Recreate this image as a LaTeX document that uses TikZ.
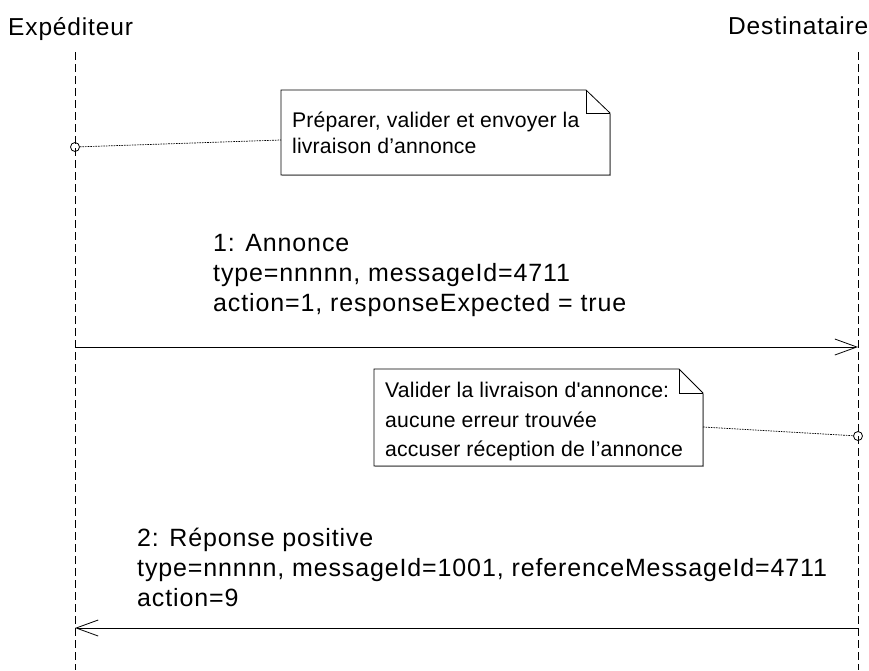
\documentclass[tikz,border=0pt]{standalone}
\usepackage{fontspec}
\setmainfont{Liberation Sans}
\newfontfamily\msgfont[LetterSpace=3.5]{Liberation Sans}
\newfontfamily\notefont[LetterSpace=0.8,Ligatures=TeXOff]{Liberation Sans}
\usetikzlibrary{arrows.meta}

\tikzset{
  lifeline/.style={line width=0.8pt, dash pattern=on 8pt off 4pt},
  actorlabel/.style={font=\msgfont\fontsize{24.5}{29}\selectfont, inner sep=0pt, anchor=base west},
  msgtext/.style={font=\msgfont\fontsize{25}{30}\selectfont, inner sep=0pt, anchor=base west},
  notetext/.style={font=\notefont\fontsize{21.2}{26}\selectfont, inner sep=0pt, anchor=base west},
  notebox/.style={draw, line width=0.8pt, fill=white},
  noteshadow/.style={draw=black!30, line width=1pt},
  notelink/.style={line width=0.7pt, dash pattern=on 1.6pt off 1pt},
  anchorpt/.style={circle, draw, line width=0.8pt, minimum size=9pt, inner sep=0pt},
  message/.style={line width=0.8pt, -{Straight Barb[length=22pt,width=16pt]}},
}

\begin{document}
\begin{tikzpicture}[x=1pt,y=-1pt]
\useasboundingbox (0,0) rectangle (869,670);

% participants
\node[actorlabel] (sender) at (8,35) {Expéditeur};
\node[actorlabel] (receiver) at (728,34) {Destinataire};

% lifelines
\coordinate (sTop) at (75,52);
\coordinate (sBot) at (75,670);
\coordinate (rTop) at (858,52);
\coordinate (rBot) at (858,670);
\draw[lifeline] (sTop) -- (sBot);
\draw[lifeline] (rTop) -- (rBot);

% note 1: preparation on the sender side
\coordinate (n1nw) at (281,90);
\coordinate (n1f1) at (586,90);
\coordinate (n1f2) at (610,113);
\coordinate (n1se) at (610,175);
\coordinate (n1sw) at (281,175);
\coordinate (n1link) at (281,140);
\draw[noteshadow] (282,175.9) -- (610.9,175.9) -- (610.9,114);
\draw[notebox] (n1nw) -- (n1f1) -- (n1f2) -- (n1se) -- (n1sw) -- cycle;
\draw[line width=0.8pt] (n1f1) |- (n1f2);
\node[notetext] (n1a) at (292,127) {Préparer, valider et envoyer la};
\node[notetext] (n1b) at (292,153) {livraison d’annonce};
\node[anchorpt] (p1) at (75,147) {};
\draw[notelink] (p1) -- (n1link);

% message 1
\node[msgtext] (m1a) at (213,251) {1: Annonce};
\node[msgtext] (m1b) at (213,281) {type=nnnnn, messageId=4711};
\node[msgtext] (m1c) at (213,311) {action=1, responseExpected = true};
\coordinate (m1s) at (75,347);
\coordinate (m1e) at (858,347);
\draw[message] (m1s) -- (m1e);

% note 2: validation on the receiver side
\coordinate (n2nw) at (374,369);
\coordinate (n2f1) at (679,369);
\coordinate (n2f2) at (703,393);
\coordinate (n2se) at (703,466);
\coordinate (n2sw) at (374,466);
\coordinate (n2link) at (703,427);
\draw[noteshadow] (375,466.9) -- (703.9,466.9) -- (703.9,394);
\draw[notebox] (n2nw) -- (n2f1) -- (n2f2) -- (n2se) -- (n2sw) -- cycle;
\draw[line width=0.8pt] (n2f1) |- (n2f2);
\node[notetext] (n2a) at (385,397) {Valider la livraison d'annonce:};
\node[notetext] (n2b) at (385,427) {aucune erreur trouvée};
\node[notetext] (n2c) at (385,456) {accuser réception de l’annonce};
\node[anchorpt] (p2) at (858,436) {};
\draw[notelink] (n2link) -- (p2);

% message 2
\node[msgtext] (m2a) at (137,546) {2: Réponse positive};
\node[msgtext] (m2b) at (137,576) {type=nnnnn, messageId=1001, referenceMessageId=4711};
\node[msgtext] (m2c) at (137,606) {action=9};
\coordinate (m2s) at (858,628);
\coordinate (m2e) at (75,628);
\draw[message] (m2s) -- (m2e);
\end{tikzpicture}
\end{document}
